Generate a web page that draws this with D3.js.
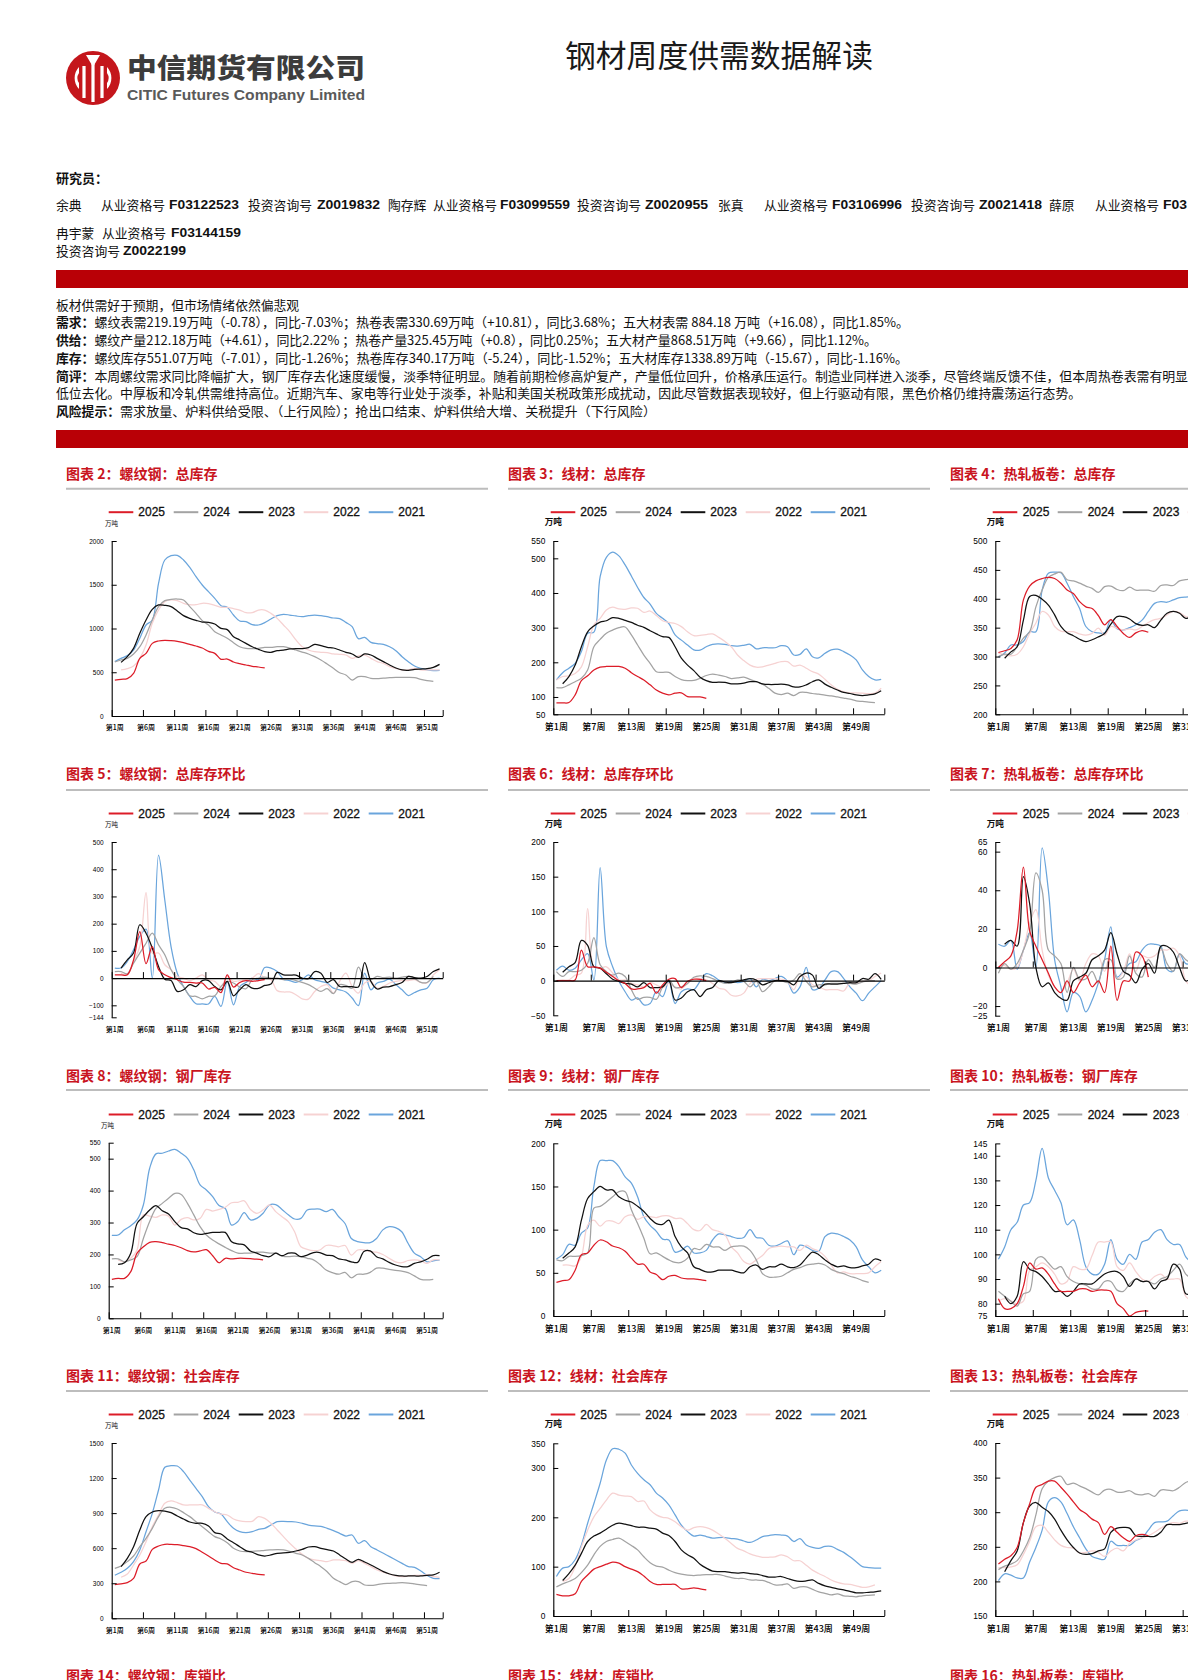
<!DOCTYPE html>
<html lang="zh">
<head>
<meta charset="utf-8">
<title>钢材周度供需数据解读</title>
<script src="https://cdn.jsdelivr.net/npm/d3@7"></script>
<style>
html,body{margin:0;padding:0;background:#fff;width:1188px;height:1680px;overflow:hidden}
svg{display:block}
text{font-family:"Noto Sans CJK SC","Liberation Sans",sans-serif;fill:#111}
.num text,.num{font-family:"Liberation Sans","Noto Sans CJK SC",sans-serif}
</style>
</head>
<body>
<svg id="page" width="1188" height="1680" viewBox="0 0 1188 1680"></svg>
<script>
const years = [2025, 2024, 2023, 2022, 2021];

// 图表 2 螺纹钢 总库存
const rebarTotal2025 = [411,419,427,488,659,716,830,857,865,861,853,838,819,800,777,739,716,648,651,617,598,583,568,560,549];
const rebarTotal2024 = [617,640,659,709,792,926,1097,1250,1318,1333,1337,1326,1250,1173,1090,1040,964,926,888,838,792,773,770,773,785,785,792,792,777,754,731,709,678,640,594,545,495,469,411,450,450,430,427,434,438,442,442,442,438,419,404,396];
const rebarTotal2023 = [null,613,678,773,945,1097,1219,1269,1265,1250,1200,1147,1116,1093,1074,1070,1051,1002,987,907,869,830,792,762,735,728,747,754,766,770,770,781,819,804,785,777,754,728,709,670,709,697,659,621,583,549,526,522,533,537,541,556,590];
const rebarTotal2022 = [null,526,541,571,659,811,1059,1211,1307,1326,1318,1288,1272,1272,1288,1284,1265,1242,1242,1227,1211,1181,1181,1211,1211,1173,1116,1040,964,869,792,754,735,728,724,709,705,697,659,686,697,659,621,602,564,545,526,526,545,526,526,526,526];
const rebarTotal2021 = [621,659,690,754,888,1040,1097,1516,1783,1832,1836,1783,1699,1592,1497,1421,1345,1261,1242,1154,1086,1078,1044,1040,1067,1109,1147,1162,1154,1143,1135,1147,1154,1147,1135,1120,1112,1070,1021,884,899,842,827,819,792,747,678,621,571,545,526,518,522];

// 图表 3 线材 总库存
const wireTotal2025 = [83,83,84,106,147,161,178,186,188,188,188,183,170,159,149,135,120,111,106,111,112,101,100,100,96];
const wireTotal2024 = [127,127,135,144,154,178,245,266,284,293,300,302,279,250,221,197,173,171,171,159,150,147,148,154,162,166,163,159,153,155,157,151,144,137,125,111,107,111,104,113,113,110,108,105,103,100,97,94,89,87,85,84];
const wireTotal2023 = [null,138,159,192,245,288,305,316,320,329,327,321,315,307,301,291,282,274,272,245,212,192,176,157,147,142,143,142,138,138,140,144,144,138,136,136,137,135,129,129,135,144,149,137,128,120,113,110,106,104,106,109,118];
const wireTotal2022 = [149,159,161,168,187,245,308,327,351,359,354,353,357,356,344,348,335,320,315,312,303,288,277,278,280,282,272,260,245,221,205,192,186,187,192,197,202,202,189,192,183,173,166,151,135,122,115,112,112,111,110,111,125];
const wireTotal2021 = [149,170,183,197,231,284,287,447,503,518,507,481,449,416,387,368,341,327,312,279,264,250,236,235,245,252,253,252,248,247,249,252,239,242,242,242,248,245,221,223,239,216,213,226,236,238,231,221,207,178,159,149,151];

// 图表 4 热轧板卷 总库存
const coilTotal2025 = [307,310,314,329,398,422,431,435,437,435,427,415,409,395,386,383,371,355,364,352,340,333,341,345,342];
const coilTotal2024 = [300,304,304,317,332,343,386,415,437,443,446,433,431,427,422,418,411,421,422,416,414,420,415,415,415,413,423,424,423,431,433,434];
const coilTotal2023 = [null,297,308,317,363,404,406,399,389,372,352,341,336,330,326,329,334,340,356,369,369,365,357,354,355,350,363,375,378,375,366,371];
const coilTotal2022 = [306,303,301,304,317,340,358,378,372,352,344,343,343,339,337,340,349,337,352,349,346,348,346,352,359,364,366,372,378,376,369,369];
const coilTotal2021 = [299,306,320,320,326,343,343,415,444,446,445,427,404,383,352,343,341,341,363,348,346,350,355,363,378,392,395,394,398,402,403,403];

// 图表 5 螺纹钢 总库存环比
const rebarChange2025 = [12,12,12,67,171,53,116,31,12,2,-6,-15,-16,-18,-18,-40,-34,-53,12,-33,-16,-9,-12,-9,-6];
const rebarChange2024 = [24,24,16,55,92,128,165,122,86,31,-6,-31,-65,-67,-76,-67,-65,-31,-12,-18,-33,-39,-6,0,4,0,0,-6,-4,-9,-16,-24,-37,-49,-39,-57,-24,-27,-37,40,0,-6,6,2,4,0,4,6,-1,-16,-16,6];
const rebarChange2023 = [null,37,67,92,196,165,110,43,-4,-9,-49,-43,-24,-31,-9,-9,-31,-43,-12,-65,-43,-24,-37,-38,-27,-22,21,12,11,11,0,-2,24,18,-16,-6,-31,-31,-31,-33,57,-12,-40,-33,-31,-24,-16,6,2,0,6,24,34];
const rebarChange2022 = [null,18,12,61,116,314,92,92,49,31,6,0,-9,0,12,-6,-12,-31,6,-12,-9,-6,0,16,0,-6,-46,-51,-51,-61,-76,-77,-49,-31,-24,-55,-12,18,-31,-55,-18,-12,-37,-31,-18,-12,-9,-9,-6,-16,-18,12,31];
const rebarChange2021 = [37,37,61,104,153,180,0,452,287,116,18,-31,-67,-94,-95,-95,-67,-104,-12,-98,-31,-16,0,-6,39,37,24,-4,-9,-16,-6,12,-6,-12,-18,-37,-43,-51,-73,-101,18,-43,-18,-12,-4,-24,-43,-64,-53,-43,-37,-6,0];

// 图表 6 线材 总库存环比
const wireChange2025 = [0,0,0,1,44,20,20,18,12,6,0,-4,-12,-12,-10,-4,-18,-6,2,3,-10,-1,2,2,0];
const wireChange2024 = [13,6,13,13,15,25,62,23,13,8,11,6,-13,-27,-24,-24,-27,-9,1,-10,-9,-4,5,7,6,3,-1,-4,-3,1,-1,-9,-1,-16,-9,0,0,-3,1,10,-1,-9,-6,-6,-4,-4,-4,-4,-5,-2,0,0];
const wireChange2023 = [null,12,20,26,58,51,20,18,10,2,-1,-4,-5,-9,-3,-10,-10,-9,0,-28,-25,-16,-13,-23,-13,-10,0,-2,-3,-1,1,3,1,-6,-3,0,0,-1,-6,6,11,8,-11,-5,-5,-5,-4,-3,-3,3,2,10,2];
const wireChange2022 = [0,1,1,8,11,104,20,18,20,11,1,1,-4,-6,-9,-3,-6,-10,-4,-9,-12,-4,3,3,1,-4,-11,-13,-21,-22,-18,-4,2,3,3,3,2,-1,-13,6,6,-6,-9,-13,-13,-13,-15,-3,-4,-1,0,6,11];
const wireChange2021 = [15,21,15,18,30,39,1,163,49,20,-1,-16,-28,-25,-35,-33,-16,-23,-1,-33,-16,-12,-13,-1,10,7,1,-3,-1,-3,-1,3,-9,2,0,3,6,-1,-18,-9,19,-13,-11,1,13,13,3,-9,-18,-29,-18,-9,0];

// 图表 7 热轧板卷 总库存环比
const coilChange2025 = [0,3,6,19,52,19,11,4,-3,-10,-13,-7,-13,-8,-4,-10,-7,-13,11,-17,-7,-7,8,6,-5];
const coilChange2024 = [-3,2,-1,2,9,18,49,40,9,6,2,-13,0,-6,-6,-2,-8,4,4,-6,-5,6,-3,-5,4,0,10,2,-2,7,4,2];
const coilChange2023 = [null,12,14,11,47,33,0,-10,-8,-13,-16,-17,-7,-5,-3,4,6,9,18,7,-2,-4,-8,-1,2,-3,11,11,8,0,-7,-5];
const coilChange2022 = [0,1,-1,0,9,23,30,9,-4,-10,-13,-8,-1,-7,2,7,6,-2,9,-6,-2,7,-2,6,5,6,9,9,10,6,-7,-10];
const coilChange2021 = [12,11,14,-1,9,18,0,62,40,4,-10,-23,-13,-15,-23,-17,-8,4,21,-5,-2,2,3,9,12,12,11,-1,-2,7,2,2];

// 图表 8 螺纹钢 钢厂库存
const rebarMill2025 = [122,125,125,146,204,224,238,240,237,232,228,221,212,208,211,215,196,174,188,186,188,188,187,185,183];
const rebarMill2024 = [186,186,177,183,193,250,303,344,360,376,391,388,360,324,287,261,245,233,222,212,204,204,204,207,207,204,204,195,193,195,193,188,183,169,151,143,138,144,127,138,138,144,157,157,153,150,148,143,133,122,120,122];
const rebarMill2023 = [null,169,174,204,297,318,339,353,337,327,303,284,280,268,263,266,269,269,269,240,233,230,211,204,196,193,204,196,204,204,193,198,206,206,198,196,186,183,177,175,209,211,193,186,175,167,162,162,172,177,185,196,196];
const rebarMill2022 = [null,183,177,188,214,324,320,316,324,320,292,310,315,308,313,341,336,341,348,362,363,368,341,329,339,355,334,318,303,271,224,216,212,214,228,228,224,228,198,214,214,209,207,200,188,177,174,181,183,181,172,183,183];
const rebarMill2021 = [260,261,277,290,308,355,470,515,517,524,529,517,501,465,418,402,381,353,344,292,303,331,308,313,329,355,356,341,324,311,313,339,342,342,334,341,318,297,250,240,237,237,250,277,287,284,271,235,204,193,177,180,182];

// 图表 9 线材 钢厂库存
const wireMill2025 = [39,41,42,53,71,73,82,88,86,81,79,75,67,60,60,51,48,42,46,47,44,43,43,42,41];
const wireMill2024 = [65,64,69,69,70,73,125,127,132,138,144,144,123,107,90,72,73,69,65,62,62,67,78,77,83,80,80,76,80,81,81,76,65,49,45,45,46,50,54,56,59,60,61,59,54,51,49,46,44,41,39];
const wireMill2023 = [null,67,73,80,111,136,144,150,146,146,138,134,132,127,121,113,107,106,111,92,80,73,57,54,51,51,53,53,53,51,50,57,59,54,57,57,60,57,56,59,67,74,71,65,60,57,58,56,56,58,60,66,64];
const wireMill2022 = [null,59,59,58,69,105,111,104,110,110,107,115,117,112,115,115,114,116,116,113,113,107,100,99,106,100,98,94,80,73,63,60,65,70,78,80,81,80,80,76,82,78,75,69,59,50,51,49,49,49,50,57,63];
const wireMill2021 = [66,71,83,82,96,102,150,180,180,180,173,161,154,138,115,105,98,89,88,74,76,81,73,73,76,88,95,94,92,90,91,100,91,90,82,81,84,87,71,82,80,76,75,92,96,95,92,88,80,65,57,50,53];

// 图表 10 热轧板卷 钢厂库存
const coilMill2025 = [82,78,78,80,87,96.5,94,94.5,92,88,85,85,85,86,86,85,85.5,85.5,85,80,78,75,76.5,77,77];
const coilMill2024 = [85,83,81,79,84,85,98,99,96.5,94,95,91,89,88,87.5,86,86,89,89,85.5,85,88,90,89,89,88,90,91,93.5,96,92,90];
const coilMill2023 = [null,83,80,83,97,94,93,91,88,85,85,83,85,88,88,88,90,92,93,93,91,87,90,89,89,86,89,90,96,94,84,84];
const coilMill2022 = [81,82,81,80,81,93.5,95,96.5,95,92,88,89,95,94,94,99.5,105,105,105,95,93.5,96.5,93,90,89,91,92,90,90,90,83,81];
const coilMill2021 = [98,103,110,113,120,121,130,143,131,126,121,112,114,106,95,92,92,96,106,98,96,100,98,105,106,109,110,106,104,104,99,96.5];

// 图表 11 螺纹钢 社会库存
const rebarSocial2025 = [288,294,305,342,465,490,590,619,633,633,630,622,613,596,565,533,499,470,465,433,413,394,385,376,371];
const rebarSocial2024 = [428,448,485,533,613,684,770,870,941,950,935,904,870,827,784,741,699,679,647,599,576,570,573,576,582,585,587,585,573,556,542,513,476,442,399,342,314,288,314,314,285,282,288,297,299,302,305,302,294,285,279];
const rebarSocial2023 = [null,442,513,613,756,870,910,921,918,904,875,850,824,813,813,790,733,721,679,647,613,579,565,542,533,542,556,559,565,576,590,610,613,599,587,576,542,507,479,505,482,456,428,399,379,368,362,362,362,362,368,371,394];
const rebarSocial2022 = [null,351,379,456,542,656,784,884,984,1004,990,970,970,970,970,941,912,892,884,850,833,827,830,870,855,813,756,699,642,593,547,513,499,493,485,499,499,493,470,493,470,442,413,394,379,362,356,362,368,368,371,356,351];
const rebarSocial2021 = [368,394,428,485,585,741,898,1098,1292,1306,1303,1255,1183,1112,1041,955,910,892,827,770,741,733,741,761,770,798,827,830,827,824,813,798,790,787,770,750,727,704,713,642,664,613,585,556,528,499,470,442,436,405,368,342,339];

// 图表 12 线材 社会库存
const wireSocial2025 = [44,41,41,45,70,83,95,100,105,109,107,100,95,90,81,70,64,64,64,64,55,55,57,55,53];
const wireSocial2024 = [59,65,70,76,88,103,124,141,151,155,158,151,143,134,120,108,101,99,93,88,85,83,82,83,84,84,84,81,78,76,76,73,73,72,68,63,63,65,56,59,59,54,49,46,43,45,41,40,39,41,42,43];
const wireSocial2023 = [null,72,86,103,127,151,162,168,176,184,188,186,183,180,180,178,176,168,163,151,134,124,117,105,97,91,90,90,88,87,88,86,85,82,79,79,80,76,72,70,71,73,66,61,58,55,53,50,47,47,48,49,51];
const wireSocial2022 = [null,70,76,100,140,174,201,218,235,249,245,243,242,232,233,215,205,200,198,191,181,174,179,181,179,174,166,157,147,137,132,126,122,119,119,120,124,120,112,112,103,93,86,80,73,68,65,64,61,58,59,63];
const wireSocial2021 = [80,97,100,114,144,188,228,269,316,339,338,330,306,289,276,266,249,239,225,205,184,171,162,164,161,158,159,159,157,156,152,149,154,161,163,165,164,162,151,157,144,139,137,141,141,135,129,120,110,100,98,97,97];

// 图表 13 热轧板卷 社会库存
const coilSocial2025 = [225,232,237,249,285,312,336,340,345,345,336,326,315,304,298,290,285,268,279,271,263,258,266,268,266];
const coilSocial2024 = [217,222,225,230,244,263,296,334,345,350,352,340,342,338,334,329,325,332,333,329,329,331,326,325,327,323,332,332,331,336,343,345];
const coilSocial2023 = [null,214,230,244,285,309,314,307,301,290,274,260,249,241,239,240,244,247,271,277,278,277,266,265,265,265,271,282,282,282,284,285];
const coilSocial2022 = [220,220,221,224,239,258,279,281,271,260,252,249,248,241,242,244,242,236,244,248,244,255,260,263,266,271,277,282,285,284,287,286];
const coilSocial2021 = [201,211,209,205,205,228,249,274,315,321,315,298,279,263,247,236,233,232,258,252,252,252,259,263,274,285,286,287,295,302,303,301];

const ticksC2=[0,500,1000,1500,2000], ticksC3=[50,100,200,300,400,500,550], ticksC4=[200,250,300,350,400,450,500];
const ticksC5=[-144,-100,0,100,200,300,400,500], ticksC6=[-50,0,50,100,150,200], ticksC7=[-25,-20,0,20,40,60,65];
const ticksC8=[0,100,200,300,400,500,550], ticksC9=[0,50,100,150,200], ticksC10=[75,80,90,100,110,120,130,140,145];
const ticksC11=[0,300,600,900,1200,1500], ticksC12=[0,100,200,300,350], ticksC13=[150,200,250,300,350,400];

const colors = ["#dc1c28", "#a3a3a3", "#111111", "#f6d2d2", "#6aa5dc"];

const svg = d3.select("#page");
const BARS = "#b90006", RED = "#c9141e";

function T(x, y, s, o = {}) {
  const t = svg.append("text").attr("x", x).attr("y", y).attr("dominant-baseline", "central")
    .attr("font-size", o.size || 12.8).text(s);
  if (o.bold) t.attr("font-weight", 700);
  if (o.fill) t.style("fill", o.fill);
  if (o.family) t.style("font-family", o.family);
  if (o.anchor) t.attr("text-anchor", o.anchor);
  if (o.len) t.attr("textLength", o.len).attr("lengthAdjust", "spacingAndGlyphs");
  return t;
}
const LIB = '"Liberation Sans",sans-serif';

// Logo
const lg = svg.append("g").attr("transform", "translate(93,78)");
lg.append("circle").attr("r", 27).attr("fill", "#c4161c");
lg.append("path").attr("d", "M-7,-23 L7,-23 L0,-11 Z").attr("fill", "#fff");
lg.append("rect").attr("x", -1.6).attr("y", -14).attr("width", 3.2).attr("height", 38).attr("fill", "#fff");
[-9, 9].forEach(dx => lg.append("rect").attr("x", dx - 1.6).attr("y", -12).attr("width", 3.2).attr("height", 32).attr("fill", "#fff"));
lg.append("path").attr("d", "M-14,-11 A16,16 0 0 0 -14,11 L-14,5 A9,9 0 0 1 -14,-5 Z").attr("fill", "#fff");
lg.append("path").attr("d", "M14,-11 A16,16 0 0 1 14,11 L14,5 A9,9 0 0 0 14,-5 Z").attr("fill", "#fff");
T(127, 66, "中信期货有限公司", { size: 27, bold: true, fill: "#3c3c3c", len: 238 }).attr("font-weight", 900);
T(127, 95, "CITIC Futures Company Limited", { size: 14.5, bold: true, fill: "#5a5a5a", family: LIB, len: 238 });

T(565, 53, "钢材周度供需数据解读", { size: 30.8, fill: "#1a1a1a" });

T(56, 177, "研究员：", { size: 13, bold: true });
const idLine = [
  [56, "余典"], [101, "从业资格号"], [169, "F03122523", 70], [248, "投资咨询号"], [317, "Z0019832", 63],
  [388, "陶存辉"], [433, "从业资格号"], [500, "F03099559", 70], [577, "投资咨询号"], [645, "Z0020955", 63],
  [718, "张真"], [764, "从业资格号"], [832, "F03106996", 70], [911, "投资咨询号"], [979, "Z0021418", 63],
  [1049, "薛原"], [1095, "从业资格号"], [1163, "F03", 24]
];
idLine.forEach(d => d[2] ? T(d[0], 205, d[1], { bold: true, family: LIB, len: d[2], size: 12.5 }) : T(d[0], 204.5, d[1], { size: 12.8 }));
T(56, 232, "冉宇蒙", {}); T(102, 232, "从业资格号", {}); T(171, 232.5, "F03144159", { bold: true, family: LIB, len: 70, size: 12.5 });
T(56, 250, "投资咨询号", {}); T(123, 250.5, "Z0022199", { bold: true, family: LIB, len: 63, size: 12.5 });

svg.append("rect").attr("x", 56).attr("y", 270).attr("width", 1132).attr("height", 18).attr("fill", BARS);
svg.append("rect").attr("x", 56).attr("y", 430).attr("width", 1132).attr("height", 18).attr("fill", BARS);

T(56, 304, "板材供需好于预期，但市场情绪依然偏悲观", {});
const bodyLines = [
  [321, "需求：", "螺纹表需219.19万吨（-0.78），同比-7.03%；热卷表需330.69万吨（+10.81），同比3.68%；五大材表需 884.18 万吨（+16.08），同比1.85%。", 909],
  [339, "供给：", "螺纹产量212.18万吨（+4.61），同比2.22% ；热卷产量325.45万吨（+0.8），同比0.25%；五大材产量868.51万吨（+9.66），同比1.12%。", 877],
  [357, "库存：", "螺纹库存551.07万吨（-7.01），同比-1.26%；热卷库存340.17万吨（-5.24），同比-1.52%；五大材库存1338.89万吨（-15.67），同比-1.16%。", 908],
  [375, "简评：", "本周螺纹需求同比降幅扩大，钢厂库存去化速度缓慢，淡季特征明显。随着前期检修高炉复产，产量低位回升，价格承压运行。制造业同样进入淡季，尽管终端反馈不佳，但本周热卷表需有明显", 1188]
];
bodyLines.forEach(l => { T(56, l[0], l[1], { bold: true }); T(94.4, l[0], l[2], { len: l[3] - 94.4 }); });
T(56, 392, "低位去化。中厚板和冷轧供需维持高位。近期汽车、家电等行业处于淡季，补贴和美国关税政策形成扰动，因此尽管数据表现较好，但上行驱动有限，黑色价格仍维持震荡运行态势。", { len: 1081 - 56 });
T(56, 410, "风险提示：", { bold: true });
T(120, 410, "需求放量、炉料供给受限、（上行风险）；抢出口结束、炉料供给大增、关税提升（下行风险）", { len: 656 - 120 });

// Layout of the page
const colLayout = [
  { rule: [66, 488], titleX: 66, legendX: 108.7, textX: 138.3, font: 6.5, xfont: 7, axisX: 111.7, unitX: 105, unitSize: 6.5, step: 5 },
  { rule: [508, 930], titleX: 508, legendX: 550.7, textX: 580.3, font: 8.4, xfont: 9, axisX: 553.3, unitX: 544.7, unitSize: 8.6, step: 6 },
  { rule: [950, 1188], titleX: 950, legendX: 992.7, textX: 1022.7, font: 8.4, xfont: 9, axisX: 995.3, unitX: 986.7, unitSize: 8.6, step: 6 }
];
const charts = [
  { row: 0, col: 0, no: 2, name: "螺纹钢：总库存", s: [rebarTotal2025, rebarTotal2024, rebarTotal2023, rebarTotal2022, rebarTotal2021], t: ticksC2, top: 541, bot: 716, lab: 727.7, unitY: 522.7 },
  { row: 0, col: 1, no: 3, name: "线材：总库存", s: [wireTotal2025, wireTotal2024, wireTotal2023, wireTotal2022, wireTotal2021], t: ticksC3, top: 541, bot: 714.3, lab: 726.7, unitY: 521 },
  { row: 0, col: 2, no: 4, name: "热轧板卷：总库存", s: [coilTotal2025, coilTotal2024, coilTotal2023, coilTotal2022, coilTotal2021], t: ticksC4, top: 541, bot: 714.3, lab: 726.7, unitY: 521 },
  { row: 1, col: 0, no: 5, name: "螺纹钢：总库存环比", s: [rebarChange2025, rebarChange2024, rebarChange2023, rebarChange2022, rebarChange2021], t: ticksC5, top: 842, bot: 1017.3, lab: 1029, unitY: 823.7 },
  { row: 1, col: 1, no: 6, name: "线材：总库存环比", s: [wireChange2025, wireChange2024, wireChange2023, wireChange2022, wireChange2021], t: ticksC6, top: 842, bot: 1015.3, lab: 1028, unitY: 822.7 },
  { row: 1, col: 2, no: 7, name: "热轧板卷：总库存环比", s: [coilChange2025, coilChange2024, coilChange2023, coilChange2022, coilChange2021], t: ticksC7, top: 842, bot: 1015.7, lab: 1028, unitY: 822.7 },
  { row: 2, col: 0, no: 8, name: "螺纹钢：钢厂库存", s: [rebarMill2025, rebarMill2024, rebarMill2023, rebarMill2022, rebarMill2021], t: ticksC8, top: 1142.7, bot: 1318.3, lab: 1330, unitY: 1125, axisX: 108.7, unitX: 101 },
  { row: 2, col: 1, no: 9, name: "线材：钢厂库存", s: [wireMill2025, wireMill2024, wireMill2023, wireMill2022, wireMill2021], t: ticksC9, top: 1143.3, bot: 1316, lab: 1328.7, unitY: 1123.3 },
  { row: 2, col: 2, no: 10, name: "热轧板卷：钢厂库存", s: [coilMill2025, coilMill2024, coilMill2023, coilMill2022, coilMill2021], t: ticksC10, top: 1143.4, bot: 1316, lab: 1328.5, unitY: 1123 },
  { row: 3, col: 0, no: 11, name: "螺纹钢：社会库存", s: [rebarSocial2025, rebarSocial2024, rebarSocial2023, rebarSocial2022, rebarSocial2021], t: ticksC11, top: 1443, bot: 1618.3, lab: 1630, unitY: 1425 },
  { row: 3, col: 1, no: 12, name: "线材：社会库存", s: [wireSocial2025, wireSocial2024, wireSocial2023, wireSocial2022, wireSocial2021], t: ticksC12, top: 1443.3, bot: 1616, lab: 1628.7, unitY: 1423.3 },
  { row: 3, col: 2, no: 13, name: "热轧板卷：社会库存", s: [coilSocial2025, coilSocial2024, coilSocial2023, coilSocial2022, coilSocial2021], t: ticksC13, top: 1443, bot: 1616, lab: 1628.8, unitY: 1423 }
];
const rowLayout = [
  { title: 472.7, rule: 488.7, legend: 512.2 },
  { title: 773, rule: 790, legend: 813.5 },
  { title: 1074.5, rule: 1090, legend: 1114.5 },
  { title: 1374.5, rule: 1391, legend: 1414.5 }
];
const lowerTitles = [[66, "图表 14：螺纹钢：库销比"], [508, "图表 15：线材：库销比"], [950, "图表 16：热轧板卷：库销比"]];

const N = 53;
const weekNames = d3.range(1, N + 1).map(w => "第" + w + "周");

charts.forEach(c => {
  const L = colLayout[c.col], R = rowLayout[c.row];
  const ax = c.axisX || L.axisX, right = L.axisX + 331;
  T(L.titleX, R.title, "图表 " + c.no + "：" + c.name, { size: 14, bold: true, fill: RED });
  svg.append("line").attr("x1", L.rule[0]).attr("x2", L.rule[1]).attr("y1", R.rule).attr("y2", R.rule)
    .attr("stroke", "#bdbdbd").attr("stroke-width", 2);

  years.forEach((y, i) => {
    const dx = 65 * i;
    svg.append("line").attr("x1", L.legendX + dx).attr("x2", L.legendX + 24.6 + dx)
      .attr("y1", R.legend).attr("y2", R.legend).attr("stroke", colors[i]).attr("stroke-width", 2);
    T(L.textX + dx, R.legend, y, { size: 12, family: LIB }).style("stroke", "#111").style("stroke-width", 0.3);
  });
  T(c.unitX || L.unitX, c.unitY, "万吨", { size: L.unitSize, bold: c.col > 0 });

  const x = d3.scaleLinear().domain([0, N]).range([ax, right]);
  const band = d3.scaleBand().domain(weekNames).range([ax, right]);
  const y = d3.scaleLinear().domain(d3.extent(c.t)).range([c.bot, c.top]);
  const zeroY = c.t[0] < 0 ? y(0) : c.bot;

  const lines = svg.append("g");
  const lineGen = d3.line().defined(d => d != null).x((d, i) => x(i + 0.5)).y(d => y(d)).curve(d3.curveCatmullRom.alpha(0.5));
  [4, 3, 1, 2, 0].forEach(i => lines.append("path").datum(c.s[i]).attr("d", lineGen)
    .attr("fill", "none").attr("stroke", colors[i]).attr("stroke-width", 1.25));

  // y axis
  const yg = svg.append("g").attr("class", "num").attr("transform", `translate(${ax},0)`)
    .call(d3.axisLeft(y).tickValues(c.t).tickFormat(d3.format("d")).tickSize(-5).tickSizeOuter(0).tickPadding(8));
  yg.selectAll("text").attr("font-size", L.font).style("font-family", LIB).style("fill", "#000");
  yg.selectAll("path,line").attr("stroke", "#000").attr("stroke-width", 1);
  yg.select(".domain").attr("stroke-width", 1.1);

  // x ticks at band edges
  const edges = d3.range(0, N + 1, L.step).concat(N % L.step ? [N] : []);
  const xg = svg.append("g").attr("transform", `translate(0,${zeroY})`)
    .call(d3.axisBottom(x).tickValues(edges).tickFormat("").tickSize(-6).tickSizeOuter(0));
  xg.selectAll("path,line").attr("stroke", "#000").attr("stroke-width", 1);
  xg.select(".domain").attr("stroke-width", 1.1);

  // x labels centred on the bands
  const shown = weekNames.filter((_, i) => i % L.step === 0 && i < 52);
  const lg2 = svg.append("g").attr("transform", `translate(0,${c.lab - L.xfont * 0.35})`)
    .call(d3.axisBottom(band).tickValues(shown).tickSize(0).tickPadding(0));
  lg2.select(".domain").remove();
  lg2.selectAll("text").attr("font-size", L.xfont).style("fill", "#000").attr("font-weight", 500);
});
lowerTitles.forEach(t => T(t[0], 1675, t[1], { size: 14, bold: true, fill: RED }));
</script>
</body>
</html>
